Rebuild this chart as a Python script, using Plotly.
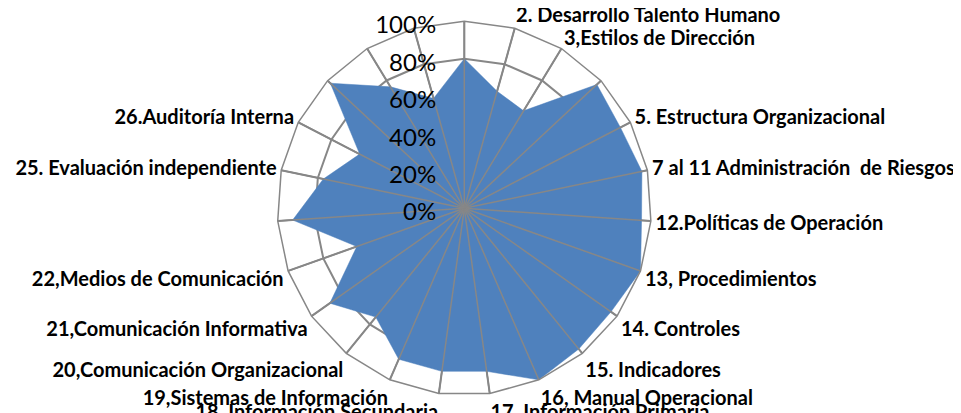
import plotly.graph_objects as go

# Categories (clockwise from top). Hidden labels in the reference are shown blank.
categories = [
    "1", "2. Desarrollo Talento Humano", "3,Estilos de Dirección", "4",
    "5. Estructura Organizacional", "7 al 11 Administración  de Riesgos",
    "12.Políticas de Operación", "13, Procedimientos", "14. Controles",
    "15. Indicadores", "16, Manual Operacional", "17, Información Primaria",
    "18, Información Secundaria", "19,Sistemas de Información",
    "20,Comunicación Organizacional", "21,Comunicación Informativa",
    "22,Medios de Comunicación", "23", "25. Evaluación independiente",
    "26.Auditoría Interna", "27", "28", "29",
]
hidden = {"1", "4", "23", "27", "28", "29"}
tick_labels = ["" if c in hidden else c for c in categories]

values = [0.80, 0.65, 0.61, 0.97, 0.94, 0.97, 0.95, 1.00, 0.96, 0.97, 1.00, 0.88,
          0.88, 0.88, 0.75, 0.88, 0.61, 0.92, 0.77, 0.63, 0.98, 0.76, 0.61]

radial_ticks = [0, 0.2, 0.4, 0.6, 0.8, 1.0]

GRAY = "#878787"
BLUE = "#4F81BD"

fig = go.Figure()
fig.add_trace(go.Scatterpolar(
    r=values + values[:1], theta=categories + categories[:1],
    mode="lines", fill="toself", fillcolor=BLUE,
    line=dict(color=BLUE, width=0.5), hoverinfo="skip", showlegend=False,
))

# spokes drawn above the fill (as in the reference)
sp_r, sp_t = [], []
for c in categories:
    sp_r += [0, radial_ticks[-1], None]
    sp_t += [c, c, None]
fig.add_trace(go.Scatterpolar(
    r=sp_r, theta=sp_t, mode="lines", connectgaps=False,
    line=dict(color=GRAY, width=1.5), hoverinfo="skip", showlegend=False,
))

# page body has an 8px margin, so the figure is 8px smaller than the window
fig.update_layout(
    width=953, height=405,
    margin=dict(l=0, r=0, t=0, b=0),
    paper_bgcolor="white",
    showlegend=False,
    polar=dict(
        domain=dict(x=[0.28258, 0.67503], y=[0.0437, 0.96716]),
        bgcolor="white",
        gridshape="linear",
        radialaxis=dict(
            range=[0, 1], tickvals=radial_ticks, tickformat=".0%",
            angle=90, side="counterclockwise",
            showline=False, gridcolor=GRAY, gridwidth=1.5,
            ticks="outside", ticklen=6, tickcolor="rgba(0,0,0,0)",
            tickfont=dict(family="Lato", size=24, color="black"),
        ),
        angularaxis=dict(
            type="category", categoryarray=categories,
            tickmode="array", tickvals=categories, ticktext=tick_labels,
            direction="clockwise", rotation=90,
            showline=True, linecolor=GRAY, linewidth=1.5,
            showgrid=True, gridcolor=GRAY, gridwidth=1.5,
            ticks="", tickfont=dict(family="Lato", size=20, color="black", weight="bold"),
        ),
    ),
)

fig.write_html("out.html")
